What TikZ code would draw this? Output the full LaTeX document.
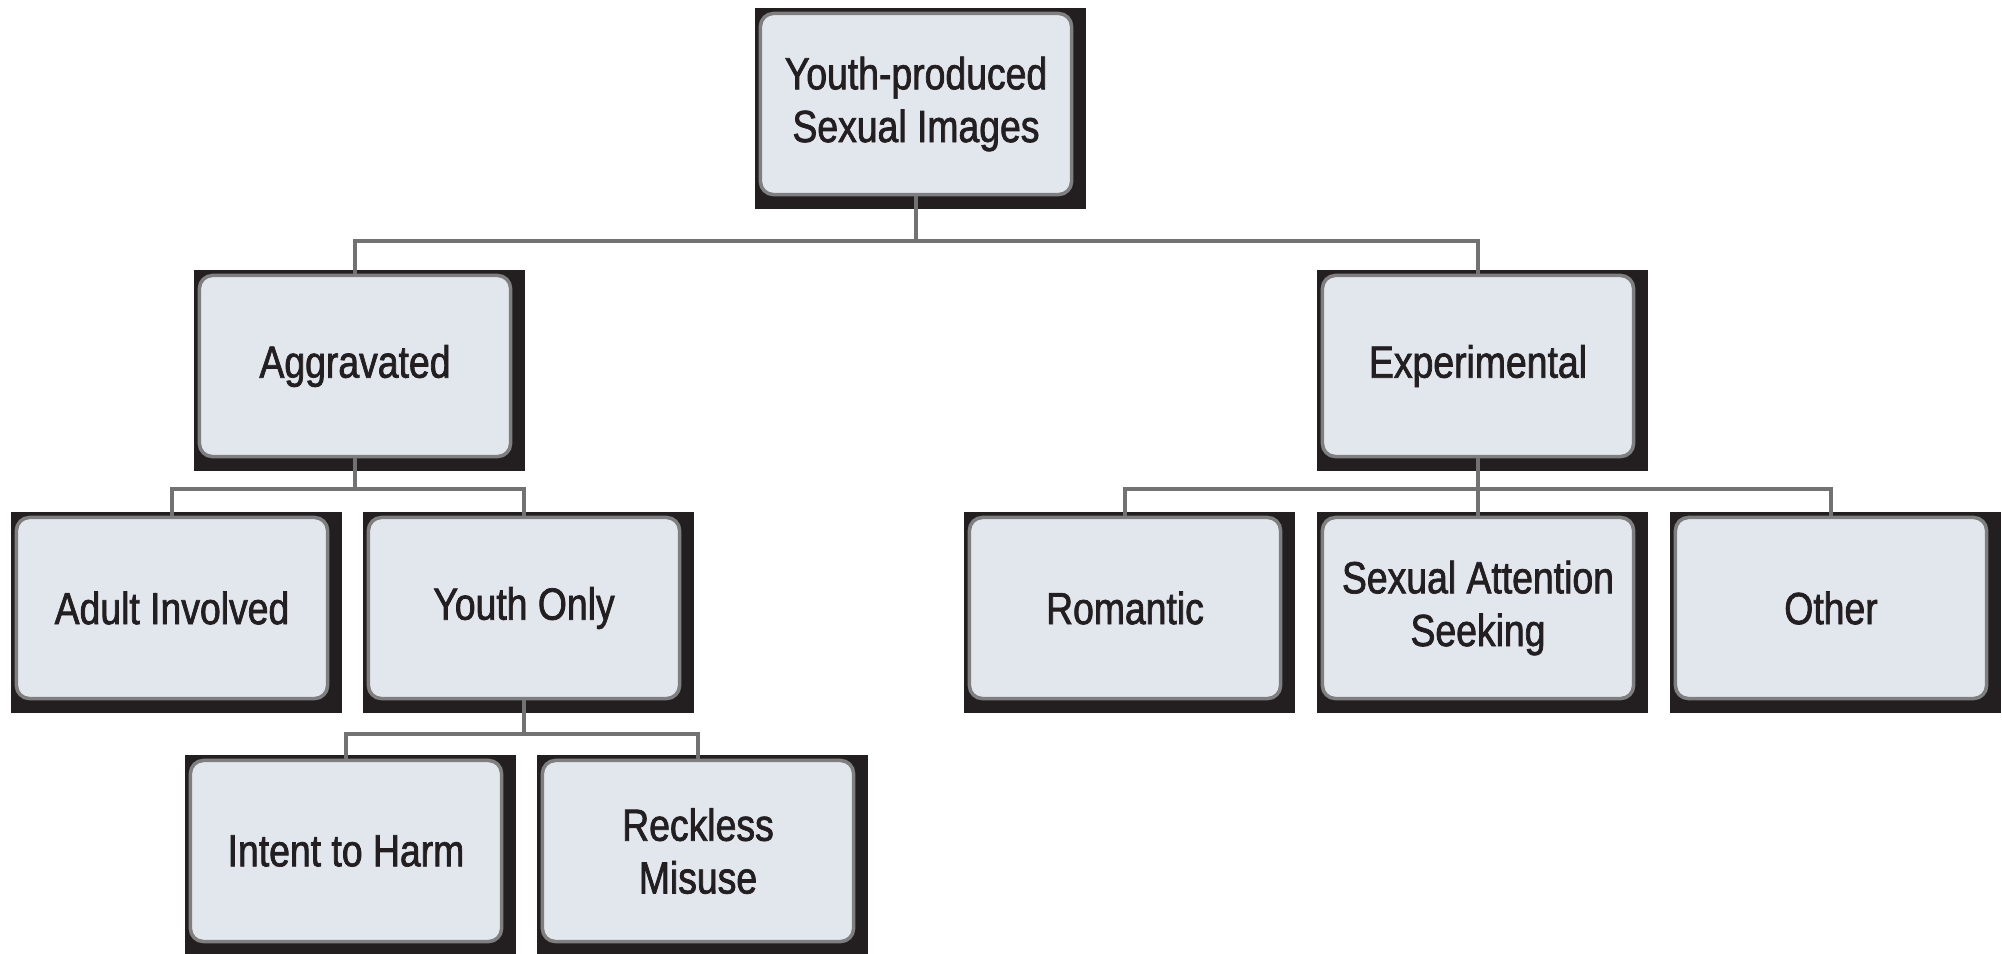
\documentclass[tikz,border=0pt]{standalone}
\usepackage{fontspec}
\setmainfont{Liberation Sans}[FakeStretch=0.83,FakeBold=1.6]
\usepackage{tikz}
\usetikzlibrary{calc}
\pgfdeclarelayer{background}
\pgfsetlayers{background,main}
\definecolor{boxfill}{HTML}{E2E7EE}
\definecolor{boxline}{HTML}{7F7F7F}
\definecolor{boxblack}{HTML}{231F20}

\begin{document}
\begin{tikzpicture}[x=0.01cm,y=-0.01cm,
  cat/.style={draw=boxline,line width=1pt,fill=boxfill,rounded corners=0.13cm,minimum width=3.11cm,minimum height=1.81cm,inner sep=0pt,align=center,text=boxblack,font=\fontsize{12.8}{15}\selectfont},
  link/.style={draw=boxline!90!black,line width=1.4pt}]

\useasboundingbox (0,0) rectangle (2002,953);

\node[cat] (top) at (916,104) {Youth-produced\\Sexual Images};

\node[cat] (agg) at (355,366) {Aggravated};
\node[cat] (exp) at (1478,366) {Experimental};

\node[cat] (adult) at (172,608) {Adult Involved};
\node[cat] (youth) at (524,608) {Youth Only};
\node[cat] (rom) at (1125,608) {Romantic};
\node[cat] (sas) at (1478,608) {Sexual Attention\\Seeking};
\node[cat] (other) at (1831,608) {Other};

\node[cat] (intent) at (346,851) {Intent to Harm};
\node[cat] (reckless) at (698,851) {Reckless\\Misuse};

% connectors
\coordinate (topbus) at (916,241);
\coordinate (aggbus) at (355,489);
\coordinate (expbus) at (1478,489);
\coordinate (youthbus) at (524,734);

\draw[link] (top.south) -- (topbus) -| (agg.north);
\draw[link] (topbus) -| (exp.north);
\draw[link] (agg.south) -- (aggbus) -| (adult.north);
\draw[link] (aggbus) -| (youth.north);
\draw[link] (exp.south) -- (sas.north);
\draw[link] (expbus) -| (rom.north);
\draw[link] (expbus) -| (other.north);
\draw[link] (youth.south) -- (youthbus) -| (intent.north);
\draw[link] (youthbus) -| (reckless.north);

\begin{pgfonlayer}{background}
\foreach \n in {top,agg,exp,adult,youth,rom,sas,other,intent,reckless}
  \fill[boxblack] ($(\n.north west)+(-4,-4)$) rectangle ($(\n.south east)+(13,13)$);
\end{pgfonlayer}

\end{tikzpicture}
\end{document}
